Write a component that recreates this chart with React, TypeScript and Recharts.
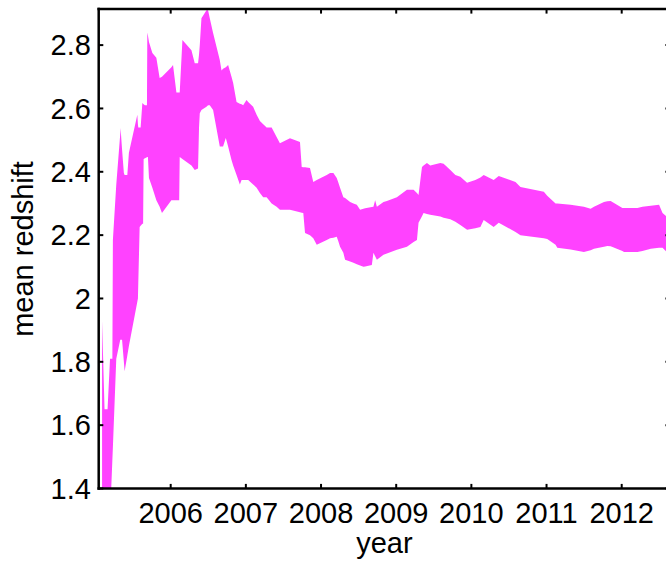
import React from "react";
import { ComposedChart, Area, XAxis, YAxis } from "recharts";

const years = [
  2005.087, 2005.12, 2005.16, 2005.193, 2005.209, 2005.224, 2005.231, 2005.276, 2005.329, 2005.333,
  2005.353, 2005.377, 2005.387, 2005.423, 2005.444, 2005.556, 2005.564, 2005.569, 2005.587, 2005.6,
  2005.623, 2005.633, 2005.64, 2005.657, 2005.684, 2005.689, 2005.697, 2005.711, 2005.756, 2005.809,
  2005.853, 2005.884, 2006.009, 2006.031, 2006.076, 2006.113, 2006.12, 2006.156, 2006.276, 2006.32,
  2006.364, 2006.377, 2006.387, 2006.409, 2006.476, 2006.497, 2006.52, 2006.564, 2006.653, 2006.676,
  2006.697, 2006.733, 2006.764, 2006.809, 2006.831, 2006.876, 2006.92, 2006.943, 2006.964, 2007.009,
  2007.031, 2007.097, 2007.143, 2007.187, 2007.231, 2007.276, 2007.343, 2007.409, 2007.453, 2007.587,
  2007.72, 2007.743, 2007.764, 2007.787, 2007.853, 2007.897, 2007.943, 2008.076, 2008.12, 2008.164,
  2008.209, 2008.231, 2008.253, 2008.297, 2008.32, 2008.387, 2008.431, 2008.476, 2008.52, 2008.564,
  2008.587, 2008.676, 2008.697, 2008.72, 2008.743, 2008.831, 2008.876, 2009.009, 2009.143, 2009.231,
  2009.276, 2009.297, 2009.343, 2009.364, 2009.409, 2009.453, 2009.587, 2009.631, 2009.72, 2009.787,
  2009.853, 2009.943, 2010.053, 2010.12, 2010.164, 2010.297, 2010.364, 2010.587, 2010.653, 2010.964,
  2011.009, 2011.12, 2011.143, 2011.32, 2011.497, 2011.587, 2011.631, 2011.764, 2011.809, 2011.853,
  2012.009, 2012.031, 2012.209, 2012.276, 2012.387, 2012.497, 2012.543, 2012.6, 2012.66,
];

const upper = [
  1.93, 1.65, 1.65, 1.81, 1.81, 1.81, 2.185, 2.36, 2.52, 2.538,
  2.47, 2.396, 2.39, 2.39, 2.46, 2.58, 2.55, 2.54, 2.54, 2.54,
  2.617, 2.615, 2.613, 2.61, 2.61, 2.84, 2.83, 2.81, 2.775, 2.76,
  2.696, 2.7, 2.73, 2.737, 2.65, 2.65, 2.65, 2.816, 2.784, 2.743,
  2.743, 2.77, 2.8, 2.885, 2.91, 2.91, 2.885, 2.838, 2.753, 2.72,
  2.725, 2.73, 2.737, 2.7, 2.68, 2.62, 2.615, 2.613, 2.61, 2.627,
  2.62, 2.605, 2.58, 2.56, 2.55, 2.54, 2.54, 2.51, 2.49, 2.506,
  2.494, 2.415, 2.414, 2.414, 2.412, 2.368, 2.374, 2.39, 2.396, 2.396,
  2.38, 2.365, 2.35, 2.32, 2.317, 2.305, 2.3, 2.296, 2.28, 2.283,
  2.285, 2.289, 2.29, 2.31, 2.29, 2.305, 2.308, 2.32, 2.343, 2.343,
  2.333, 2.327, 2.415, 2.42, 2.428, 2.42, 2.428, 2.425, 2.406, 2.39,
  2.384, 2.365, 2.374, 2.382, 2.39, 2.374, 2.387, 2.368, 2.352, 2.337,
  2.324, 2.3, 2.3, 2.296, 2.29, 2.283, 2.29, 2.305, 2.307, 2.308,
  2.286, 2.286, 2.286, 2.29, 2.293, 2.296, 2.27, 2.258, 2.255,
];

const lower = [
  1.3, 1.3, 1.3, 1.32, 1.4, 1.49, 1.53, 1.81, 1.87, 1.87,
  1.87, 1.8, 1.77, 1.82, 1.85, 1.99, 2.0, 2.05, 2.226, 2.23,
  2.236, 2.236, 2.44, 2.443, 2.446, 2.447, 2.447, 2.38, 2.35, 2.31,
  2.29, 2.27, 2.31, 2.31, 2.31, 2.31, 2.447, 2.44, 2.42, 2.406,
  2.41, 2.54, 2.585, 2.595, 2.605, 2.61, 2.61, 2.595, 2.48, 2.48,
  2.48, 2.507, 2.48, 2.437, 2.42, 2.39, 2.36, 2.374, 2.374, 2.374,
  2.374, 2.36, 2.35, 2.333, 2.32, 2.32, 2.3, 2.29, 2.28, 2.28,
  2.272, 2.271, 2.27, 2.207, 2.2, 2.19, 2.17, 2.185, 2.19, 2.192,
  2.195, 2.18, 2.163, 2.144, 2.122, 2.117, 2.113, 2.108, 2.104, 2.1,
  2.101, 2.106, 2.144, 2.133, 2.122, 2.138, 2.142, 2.154, 2.163, 2.178,
  2.185, 2.239, 2.26, 2.27, 2.267, 2.264, 2.259, 2.255, 2.25, 2.242,
  2.232, 2.217, 2.222, 2.226, 2.248, 2.226, 2.239, 2.21, 2.2, 2.19,
  2.188, 2.17, 2.16, 2.155, 2.147, 2.152, 2.157, 2.163, 2.166, 2.165,
  2.15, 2.147, 2.147, 2.15, 2.157, 2.16, 2.16, 2.147, 2.145,
];

const yearTicks = [2006, 2007, 2008, 2009, 2010, 2011, 2012];
const valueTicks = [1.4, 1.6, 1.8, 2, 2.2, 2.4, 2.6, 2.8];

const xDomain: [number, number] = [2005.0422, 2012.6425];
const yDomain: [number, number] = [1.4, 2.914];

const data = years.map((y, i) => ({ year: y, band: [lower[i], upper[i]] }));

const FONT = "'Liberation Sans', Arial, Helvetica, sans-serif";
const TL = 4.6;

const BottomTick = (props: any) => {
  const { x, y, payload } = props;
  return (
    <g>
      <line x1={x} y1={y} x2={x} y2={y - TL} stroke="#000" strokeWidth={2} />
      <text x={x} y={y + 34.8} textAnchor="middle" fontFamily={FONT} fontSize={29} fill="#000">
        {String(payload.value)}
      </text>
    </g>
  );
};

const TopTick = (props: any) => {
  const { x, y } = props;
  return <line x1={x} y1={y} x2={x} y2={y + TL} stroke="#000" strokeWidth={2} />;
};

const LeftTick = (props: any) => {
  const { x, y, payload } = props;
  return (
    <g>
      <line x1={x} y1={y} x2={x + TL} y2={y} stroke="#000" strokeWidth={2} />
      <text x={x - 7.8} y={y + 10.3} textAnchor="end" fontFamily={FONT} fontSize={29} fill="#000">
        {String(payload.value)}
      </text>
    </g>
  );
};

const RightTick = (props: any) => {
  const { x, y } = props;
  return <line x1={x} y1={y} x2={x - TL} y2={y} stroke="#000" strokeWidth={2} />;
};

const axisLineStyle = { stroke: "#000", strokeWidth: 2.5, strokeLinecap: "square" as const };

export default function App() {
  return (
    <div style={{ position: "absolute", left: 0, top: 0, width: 666, height: 563, overflow: "hidden", background: "#fff" }}>
      <ComposedChart
        width={680}
        height={563}
        data={data}
        margin={{ top: 4, right: 5, bottom: 0, left: 0 }}
      >
        <Area
          xAxisId="b"
          yAxisId="l"
          dataKey="band"
          type="linear"
          stroke="none"
          fill="#ff42ff"
          fillOpacity={1}
          dot={false}
          activeDot={false}
          isAnimationActive={false}
        />
        <XAxis
          xAxisId="b"
          dataKey="year"
          type="number"
          domain={xDomain}
          allowDataOverflow
          ticks={yearTicks}
          orientation="bottom"
          height={74.5}
          tickSize={0}
          tickMargin={0}
          tickLine={false}
          axisLine={axisLineStyle}
          tick={<BottomTick />}
          interval={0}
          label={{ value: "year", position: "insideBottom", offset: 0, dy: -10.5, fontFamily: FONT, fontSize: 29, fill: "#000" } as any}
        />
        <XAxis
          xAxisId="t"
          dataKey="year"
          type="number"
          domain={xDomain}
          allowDataOverflow
          ticks={yearTicks}
          orientation="top"
          height={5}
          tickSize={0}
          tickMargin={0}
          tickLine={false}
          axisLine={axisLineStyle}
          tick={<TopTick />}
          interval={0}
        />
        <YAxis
          yAxisId="l"
          type="number"
          domain={yDomain}
          allowDataOverflow
          ticks={valueTicks}
          orientation="left"
          width={98.7}
          tickSize={0}
          tickMargin={0}
          tickLine={false}
          axisLine={axisLineStyle}
          tick={<LeftTick />}
          interval={0}
        />
        <YAxis
          yAxisId="r"
          type="number"
          domain={yDomain}
          allowDataOverflow
          ticks={valueTicks}
          orientation="right"
          width={5}
          tickSize={0}
          tickMargin={0}
          tickLine={false}
          axisLine={axisLineStyle}
          tick={<RightTick />}
          interval={0}
        />
      </ComposedChart>
      <svg
        width={666}
        height={563}
        style={{ position: "absolute", left: 0, top: 0, pointerEvents: "none" }}
      >
        <text
          x={33.3}
          y={249}
          transform="rotate(-90 33.3 249)"
          textAnchor="middle"
          fontFamily={FONT}
          fontSize={29}
          fill="#000"
        >
          mean redshift
        </text>
      </svg>
    </div>
  );
}
